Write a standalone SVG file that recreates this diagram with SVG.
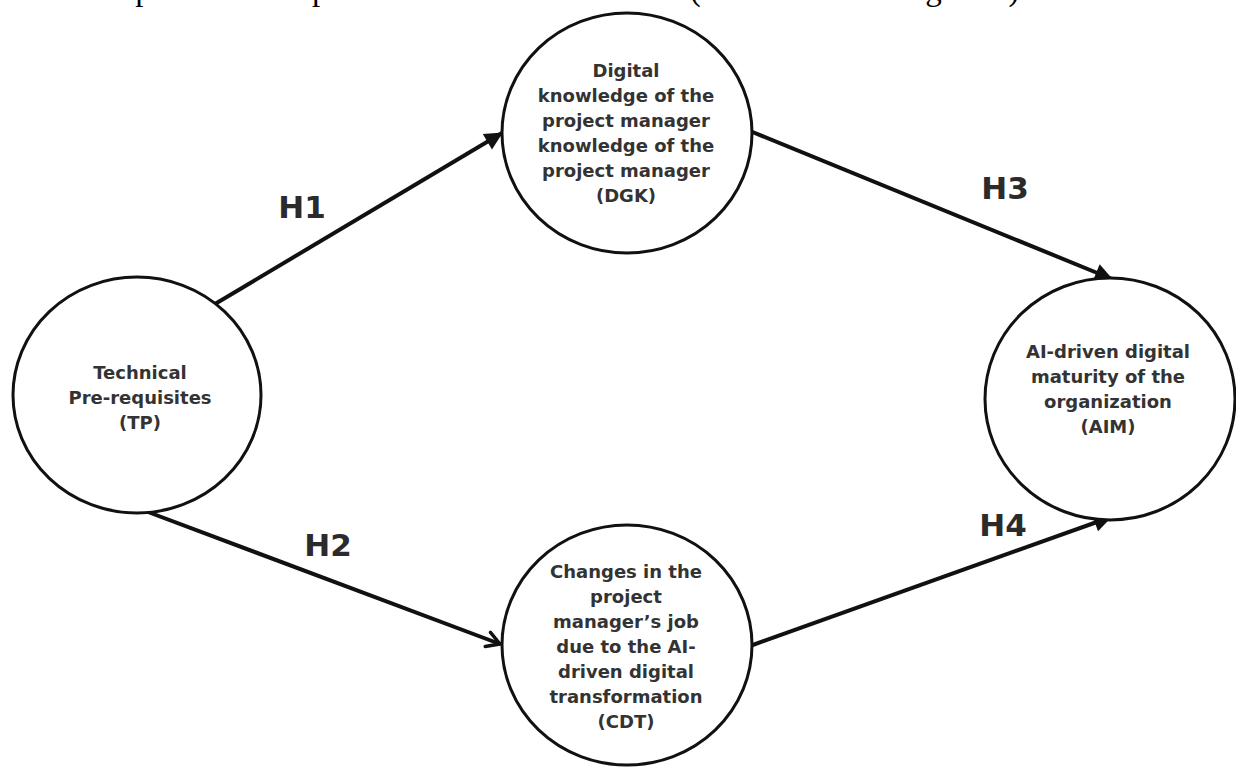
<svg xmlns="http://www.w3.org/2000/svg" width="1236" height="767" viewBox="0 0 1236 767">
  <style>
    .node { fill: #ffffff; stroke: #111111; stroke-width: 3; }
    .label { font-family: "DejaVu Sans", "Liberation Sans", sans-serif; font-weight: bold; font-size: 18px; fill: #333333; text-anchor: middle; }
    .hyp { font-family: "DejaVu Sans", "Liberation Sans", sans-serif; font-weight: bold; font-size: 31px; fill: #2b2b2b; text-anchor: middle; }
    .edge { fill: none; stroke: #111111; stroke-width: 4; }
    .caption { font-family: "Liberation Serif", "Times New Roman", serif; font-size: 33px; fill: #000000; }
  </style>
  <defs>
    <marker id="arrowFilled" viewBox="0 0 18 18" refX="17" refY="9" markerWidth="18" markerHeight="18" markerUnits="userSpaceOnUse" orient="auto" overflow="visible">
      <path d="M0,0 L18,9 L0,18 z" fill="#111111"/>
    </marker>
    <marker id="arrowOpen" viewBox="0 0 18 18" refX="16" refY="9" markerWidth="18" markerHeight="18" markerUnits="userSpaceOnUse" orient="auto" overflow="visible">
      <path d="M3,1.5 L16,9 L3,16.5" fill="none" stroke="#111111" stroke-width="3.5" stroke-linecap="round" stroke-linejoin="round"/>
    </marker>
  </defs>

  <rect x="0" y="0" width="1236" height="767" fill="#ffffff"/>

  <text class="caption" x="-4" y="0">relationship can be accepted based on the t statistics (as observed in Figure 7).</text>

  <g id="connectors">
    <line class="edge" x1="215" y1="304" x2="502" y2="133" marker-end="url(#arrowFilled)"/>
    <line class="edge" x1="148" y1="512" x2="500" y2="644" marker-end="url(#arrowOpen)"/>
    <line class="edge" x1="750" y1="131" x2="1112" y2="279" marker-end="url(#arrowFilled)"/>
    <line class="edge" x1="750" y1="646" x2="1111" y2="517" marker-end="url(#arrowFilled)"/>
  </g>

  <g id="node-dgk">
    <ellipse class="node" cx="627" cy="133" rx="125" ry="120"/>
    <text class="label" x="626" y="77">Digital</text>
    <text class="label" x="626" y="102">knowledge of the</text>
    <text class="label" x="626" y="127">project manager</text>
    <text class="label" x="626" y="152">knowledge of the</text>
    <text class="label" x="626" y="177">project manager</text>
    <text class="label" x="626" y="202">(DGK)</text>
  </g>

  <g id="node-tp">
    <ellipse class="node" cx="137" cy="395" rx="124" ry="118"/>
    <text class="label" x="140" y="379">Technical</text>
    <text class="label" x="140" y="404">Pre-requisites</text>
    <text class="label" x="140" y="429">(TP)</text>
  </g>

  <g id="node-aim">
    <ellipse class="node" cx="1110" cy="399" rx="125" ry="121"/>
    <text class="label" x="1108" y="358">AI-driven digital</text>
    <text class="label" x="1108" y="383">maturity of the</text>
    <text class="label" x="1108" y="408">organization</text>
    <text class="label" x="1108" y="433">(AIM)</text>
  </g>

  <g id="node-cdt">
    <ellipse class="node" cx="627" cy="645" rx="125" ry="120"/>
    <text class="label" x="626" y="578">Changes in the</text>
    <text class="label" x="626" y="603">project</text>
    <text class="label" x="626" y="628">manager’s job</text>
    <text class="label" x="626" y="653">due to the AI-</text>
    <text class="label" x="626" y="678">driven digital</text>
    <text class="label" x="626" y="703">transformation</text>
    <text class="label" x="626" y="728">(CDT)</text>
  </g>

  <g id="edge-labels">
    <text class="hyp" x="302" y="218">H1</text>
    <text class="hyp" x="328" y="556">H2</text>
    <text class="hyp" x="1005" y="199">H3</text>
    <text class="hyp" x="1003" y="536">H4</text>
  </g>
</svg>
